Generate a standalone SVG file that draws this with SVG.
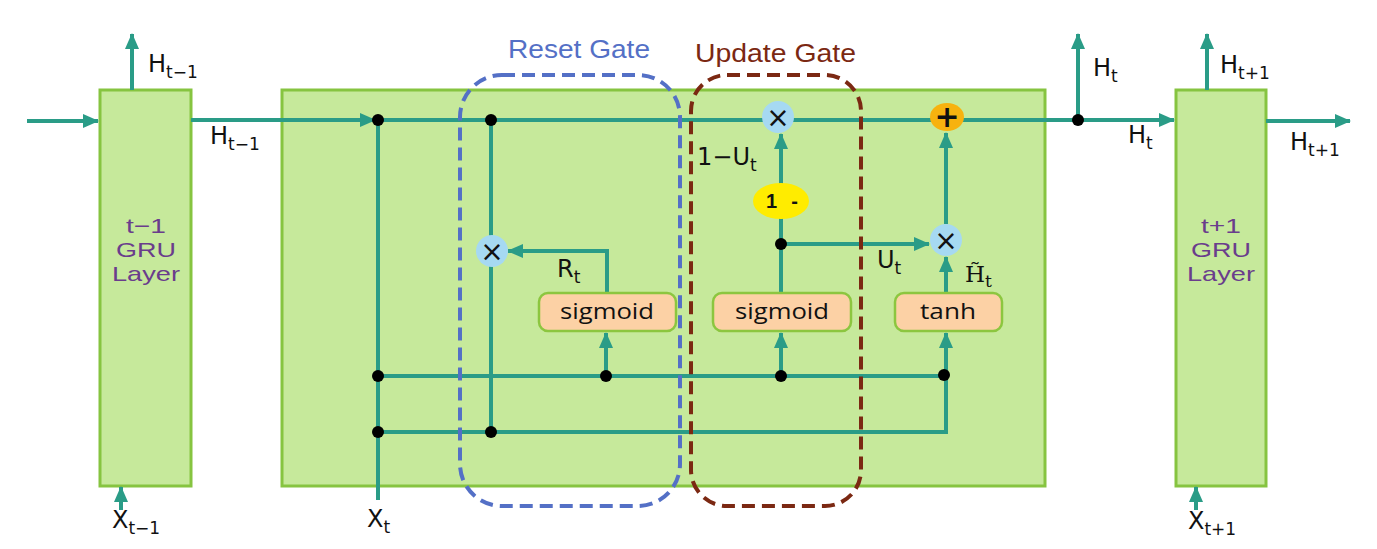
<svg xmlns="http://www.w3.org/2000/svg" width="1377" height="549" viewBox="0 0 1377 549">
<style>
.layer{fill:#c6e99b;stroke:#86c440;stroke-width:3}
.ln{fill:none;stroke:#2a9c87;stroke-width:4}
.arr{fill:none;stroke:#2a9c87;stroke-width:4;marker-end:url(#ah)}
.dot{fill:#000}
.fn{fill:#fcd1a5;stroke:#8cc63f;stroke-width:2.5}
.fnt{font-family:"Open Sans","Noto Sans",sans-serif;font-size:22px;fill:#111;text-anchor:middle}
.mul{fill:#a6d9f2}
.sym{font-family:"DejaVu Sans",sans-serif;font-size:28px;fill:#111;text-anchor:middle}
.lbl{font-family:"DejaVu Sans","Liberation Sans",sans-serif;font-size:24px;fill:#111}
.sub{font-size:17px}
.gru{font-family:"Liberation Sans",Arial,sans-serif;font-size:21px;fill:#6a3d8c;text-anchor:middle}
</style>
<defs>
<marker id="ah" markerUnits="userSpaceOnUse" markerWidth="16" markerHeight="14" viewBox="0 0 16 14" refX="15" refY="7" orient="auto">
<path d="M0,0 L16,7 L0,14 z" fill="#2a9c87"/>
</marker>
</defs>
<rect width="1377" height="549" fill="#ffffff"/>

<g id="layer-prev">
<rect class="layer" x="100" y="90" width="91" height="396"/>
<text class="gru" x="146" y="233" textLength="40" lengthAdjust="spacingAndGlyphs">t−1</text>
<text class="gru" x="146" y="257" textLength="60" lengthAdjust="spacingAndGlyphs">GRU</text>
<text class="gru" x="146" y="281" textLength="68" lengthAdjust="spacingAndGlyphs">Layer</text>
</g>
<g id="layer-main">
<rect class="layer" x="282" y="90" width="763" height="396"/>
</g>
<g id="layer-next">
<rect class="layer" x="1176" y="90" width="90" height="396"/>
<text class="gru" x="1221" y="233" textLength="40" lengthAdjust="spacingAndGlyphs">t+1</text>
<text class="gru" x="1221" y="257" textLength="60" lengthAdjust="spacingAndGlyphs">GRU</text>
<text class="gru" x="1221" y="281" textLength="68" lengthAdjust="spacingAndGlyphs">Layer</text>
</g>

<g id="connectors">
<path class="arr" d="M27,121 H98"/>
<path class="arr" d="M132,90 V34"/>
<path class="arr" d="M191,120 H375"/>
<path class="arr" d="M378,120 H1174"/>
<path class="ln" d="M378,120 V500"/>
<path class="ln" d="M378,376 H944"/>
<path class="ln" d="M378,432 H946 V376"/>
<path class="ln" d="M491,120 V432"/>
<path class="arr" d="M606,376 V333"/>
<path class="arr" d="M607,292 V251 H508"/>
<path class="arr" d="M781,376 V333"/>
<path class="ln" d="M781,292 V210"/>
<path class="arr" d="M781,186 V134"/>
<path class="arr" d="M781,244 H929"/>
<path class="arr" d="M946,376 V333"/>
<path class="arr" d="M946,292 V257"/>
<path class="arr" d="M946,224 V133"/>
<path class="arr" d="M1078,120 V34"/>
<path class="arr" d="M1207,90 V34"/>
<path class="arr" d="M1266,121 H1350"/>
<path class="arr" d="M121,510 V487"/>
<path class="arr" d="M1196,510 V487"/>
</g>

<g id="dots">
<circle class="dot" cx="378" cy="120" r="6"/>
<circle class="dot" cx="491" cy="120" r="6"/>
<circle class="dot" cx="378" cy="376" r="6"/>
<circle class="dot" cx="378" cy="432" r="6"/>
<circle class="dot" cx="491" cy="432" r="6"/>
<circle class="dot" cx="606" cy="376" r="6"/>
<circle class="dot" cx="781" cy="376" r="6"/>
<circle class="dot" cx="944" cy="375" r="6"/>
<circle class="dot" cx="781" cy="244" r="6"/>
<circle class="dot" cx="1078" cy="120" r="6"/>
</g>

<g id="reset-gate">
<rect x="460" y="75" width="220" height="431" rx="42" fill="none" stroke="#5470c6" stroke-width="4" stroke-dasharray="13,7"/>
<text x="508" y="58" font-family="Liberation Sans,Arial,sans-serif" font-size="26" fill="#5470c6" textLength="142" lengthAdjust="spacingAndGlyphs">Reset Gate</text>
</g>
<g id="update-gate">
<rect x="691" y="75" width="170" height="431" rx="36" fill="none" stroke="#7b2812" stroke-width="4" stroke-dasharray="13,7"/>
<text x="695" y="62" font-family="Liberation Sans,Arial,sans-serif" font-size="26" fill="#7b2812" textLength="161" lengthAdjust="spacingAndGlyphs">Update Gate</text>
</g>

<g id="mul-reset">
<circle class="mul" cx="492" cy="251" r="16"/>
<text class="sym" x="492" y="261">×</text>
</g>
<g id="sigmoid-reset">
<rect class="fn" x="539" y="293" width="137" height="38" rx="9"/>
<text class="fnt" x="607" y="319" textLength="94" lengthAdjust="spacingAndGlyphs">sigmoid</text>
</g>
<g id="sigmoid-update">
<rect class="fn" x="713" y="293" width="138" height="38" rx="9"/>
<text class="fnt" x="782" y="319" textLength="94" lengthAdjust="spacingAndGlyphs">sigmoid</text>
</g>
<g id="tanh">
<rect class="fn" x="895" y="293" width="107" height="38" rx="9"/>
<text class="fnt" x="948" y="319" textLength="56" lengthAdjust="spacingAndGlyphs">tanh</text>
</g>
<g id="one-minus">
<ellipse cx="781" cy="201" rx="28" ry="18" fill="#ffec00"/>
<text x="766" y="208" font-family="Liberation Sans,Arial,sans-serif" font-size="20" font-weight="bold" fill="#111" textLength="32" lengthAdjust="spacing">1 -</text>
</g>
<g id="mul-update">
<circle class="mul" cx="778" cy="117" r="16"/>
<text class="sym" x="778" y="127">×</text>
</g>
<g id="mul-cand">
<circle class="mul" cx="946" cy="240" r="16"/>
<text class="sym" x="946" y="250">×</text>
</g>
<g id="add">
<ellipse cx="947" cy="117" rx="17" ry="14" fill="#f7b20f"/>
<text x="947" y="127" font-family="DejaVu Sans,sans-serif" font-size="30" font-weight="bold" fill="#111" text-anchor="middle">+</text>
</g>

<g id="labels">
<text class="lbl" x="148" y="72">H<tspan class="sub" dy="6">t−1</tspan></text>
<text class="lbl" x="210" y="144">H<tspan class="sub" dy="6">t−1</tspan></text>
<text class="lbl" x="1093" y="76">H<tspan class="sub" dy="6">t</tspan></text>
<text class="lbl" x="1128" y="143">H<tspan class="sub" dy="6">t</tspan></text>
<text class="lbl" x="1220" y="73">H<tspan class="sub" dy="6">t+1</tspan></text>
<text class="lbl" x="1290" y="150">H<tspan class="sub" dy="6">t+1</tspan></text>
<text class="lbl" x="112" y="528">X<tspan class="sub" dy="6">t−1</tspan></text>
<text class="lbl" x="367" y="527">X<tspan class="sub" dy="6">t</tspan></text>
<text class="lbl" x="1188" y="529">X<tspan class="sub" dy="6">t+1</tspan></text>
<text class="lbl" x="557" y="277">R<tspan class="sub" dy="6">t</tspan></text>
<text class="lbl" x="877" y="268">U<tspan class="sub" dy="6">t</tspan></text>
<text class="lbl" x="697" y="165">1−U<tspan class="sub" dy="6">t</tspan></text>
<text x="965" y="282" font-family="DejaVu Serif,Liberation Serif,serif" font-size="23" fill="#111">H̃<tspan font-size="17" dy="5">t</tspan></text>
</g>
</svg>
